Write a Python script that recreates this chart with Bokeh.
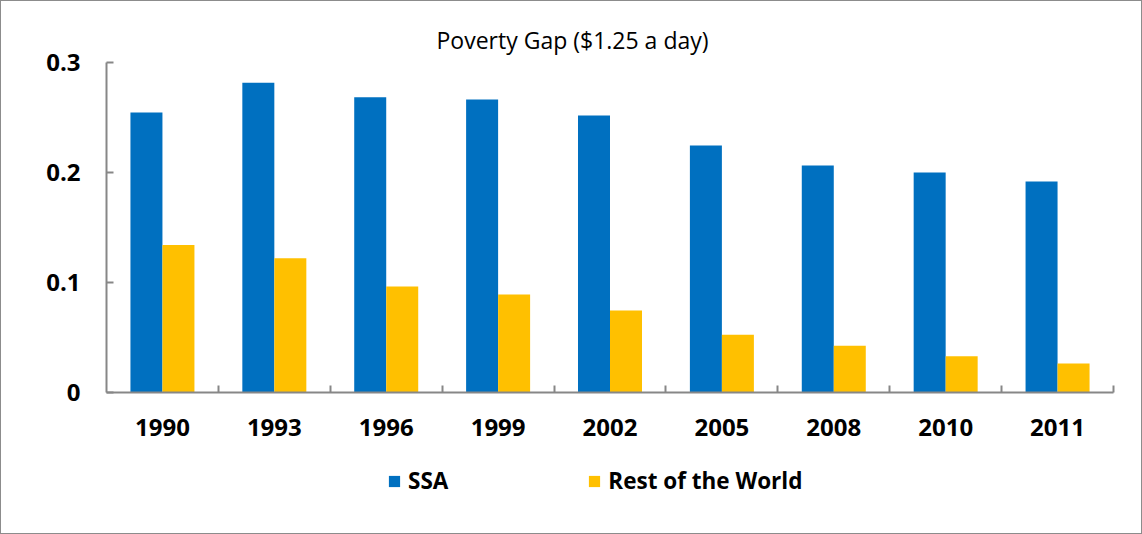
from bokeh.plotting import figure
from bokeh.layouts import column
from bokeh.models import (ColumnDataSource, Range1d, FixedTicker, Legend, LegendItem,
                          LinearAxis, Title)
from bokeh.transform import dodge
from bokeh.embed import file_html
from bokeh.resources import INLINE

# Poverty gap at $1.25 a day
years = ["1990", "1993", "1996", "1999", "2002", "2005", "2008", "2010", "2011"]
ssa = [0.2545, 0.2815, 0.2685, 0.2664, 0.2518, 0.2245, 0.2064, 0.2000, 0.1918]
rest_of_world = [0.134, 0.122, 0.0964, 0.089, 0.0745, 0.0524, 0.0424, 0.033, 0.0264]
series_names = ["SSA", "Rest of the World"]
y_ticks = [0, 0.1, 0.2, 0.3]
y_tick_labels = ["0", "0.1", "0.2", "0.3"]

BLUE = "#0070C0"
GOLD = "#FFC000"
AXIS_GREY = "#878787"
FONT = "Open Sans"

n = len(years)
centers = [i + 0.5 for i in range(n)]
source = ColumnDataSource(dict(x=centers, year=years, ssa=ssa, row=rest_of_world))

# ---- main bar chart -------------------------------------------------------
p = figure(width=1140, height=450, output_backend="svg", toolbar_location=None,
           x_range=Range1d(0, n), y_range=Range1d(0, 0.3),
           min_border_left=105, min_border_right=28, min_border_top=61,
           min_border_bottom=59, x_axis_type=None, y_axis_type=None)
p.outline_line_color = None
p.grid.visible = False
p.background_fill_color = "white"
p.border_fill_color = "white"

# title placed so that it sits centred over the whole canvas
p.title = Title(text="Poverty Gap ($1.25 a day)", align="left", offset=330,
                text_font=FONT, text_font_style="normal", text_font_size="23px",
                text_color="black", standoff=14)

bar_w = 0.286
p.vbar(x=dodge("x", -bar_w / 2), top="ssa", width=bar_w, source=source,
       fill_color=BLUE, line_color=None)
p.vbar(x=dodge("x", bar_w / 2), top="row", width=bar_w, source=source,
       fill_color=GOLD, line_color=None)

# x axis: labels at category centres, inward tick marks between categories
xaxis = LinearAxis(ticker=FixedTicker(ticks=centers, minor_ticks=list(range(1, n + 1))))
xaxis.major_label_overrides = {c: y for c, y in zip(centers, years)}
xaxis.major_tick_line_color = None
xaxis.minor_tick_in = 7
xaxis.minor_tick_out = 0
xaxis.minor_tick_line_color = AXIS_GREY
xaxis.minor_tick_line_width = 2
xaxis.axis_line_color = AXIS_GREY
xaxis.axis_line_width = 2
xaxis.major_label_text_font = FONT
xaxis.major_label_text_font_style = "bold"
xaxis.major_label_text_font_size = "24px"
xaxis.major_label_text_color = "black"
xaxis.major_label_standoff = 20
p.add_layout(xaxis, "below")

yaxis = LinearAxis(ticker=FixedTicker(ticks=y_ticks, minor_ticks=[]))
yaxis.major_label_overrides = {t: s for t, s in zip(y_ticks, y_tick_labels)}
yaxis.major_tick_in = 7
yaxis.major_tick_out = 0
yaxis.major_tick_line_color = AXIS_GREY
yaxis.major_tick_line_width = 2
yaxis.axis_line_color = AXIS_GREY
yaxis.axis_line_width = 2
yaxis.major_label_text_font = FONT
yaxis.major_label_text_font_style = "bold"
yaxis.major_label_text_font_size = "24px"
yaxis.major_label_text_color = "black"
yaxis.major_label_standoff = 26
p.add_layout(yaxis, "left")

# ---- legend strip underneath ----------------------------------------------
# (the column aligns this strip's frame with the chart frame above)
lg = figure(width=1140, height=82, output_backend="svg", toolbar_location=None,
            x_range=Range1d(0, 1), y_range=Range1d(0, 1),
            min_border=0, x_axis_type=None, y_axis_type=None)
lg.outline_line_color = None
lg.grid.visible = False
lg.background_fill_color = "white"
lg.border_fill_color = "white"

# swatch renderers: a single undrawn (NaN) bar each, only their legend entries show
swatch_src = ColumnDataSource(dict(x=[float("nan")], top=[float("nan")]))
r_ssa = lg.vbar(x="x", top="top", width=0.1, source=swatch_src,
                fill_color=BLUE, line_color=None)
r_row = lg.vbar(x="x", top="top", width=0.1, source=swatch_src,
                fill_color=GOLD, line_color=None)

legend = Legend(items=[LegendItem(label=series_names[0], renderers=[r_ssa]),
                       LegendItem(label=series_names[1], renderers=[r_row])],
                location=(281, 37), orientation="horizontal",
                glyph_width=14, glyph_height=14, label_standoff=7, spacing=139,
                padding=0, margin=0, border_line_color=None,
                background_fill_alpha=0,
                label_text_font=FONT, label_text_font_style="bold",
                label_text_font_size="22.5px", label_text_color="black")
lg.add_layout(legend, "center")

layout = column(p, lg, spacing=0)
layout.styles = {"border": "1px solid #8c8c8c"}

open("out.html", "w").write(file_html(layout, INLINE))
